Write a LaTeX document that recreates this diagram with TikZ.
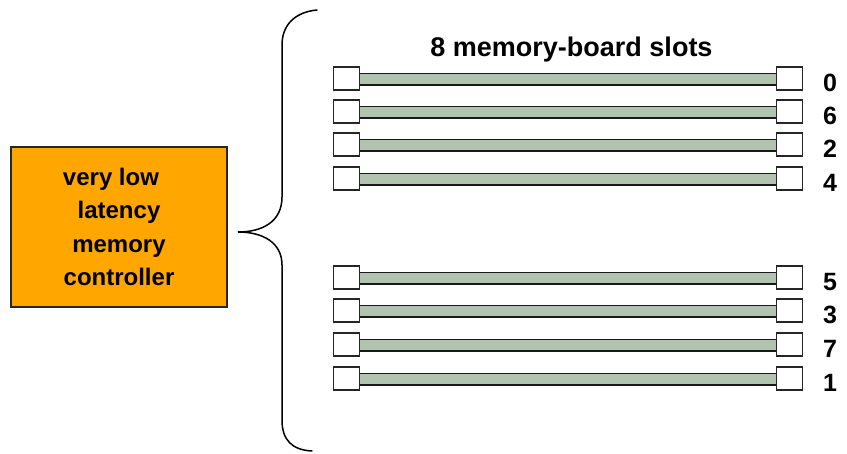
\documentclass[tikz,border=0pt]{standalone}
\usepackage{fontspec}
\setmainfont{Liberation Sans}
\definecolor{ctrlorange}{RGB}{255,166,0}
\definecolor{sage}{RGB}{176,196,176}
\begin{document}
\begin{tikzpicture}[x=1pt,y=-1pt,
  socket/.style={draw=black!85,line width=1.6pt,fill=white,minimum width=26pt,minimum height=23pt,inner sep=0pt},
  boardedge/.style={line width=13pt,draw=black!90},
  boardfill/.style={line width=10pt,draw=sage},
  slotnum/.style={font=\bfseries\fontsize{25}{25}\selectfont,anchor=base,inner sep=0pt},
  ctrl/.style={draw=black!85,line width=1.3pt,fill=ctrlorange,minimum width=216pt,minimum height=160pt,
    align=center,font=\bfseries\fontsize{24}{33.3}\selectfont,inner sep=0pt}]
\useasboundingbox (0,0) rectangle (847,454);

% memory controller
\node[ctrl] (ctrl) at (119,227) {very low\hspace*{16pt}\\latency\\memory\\controller};

% curly brace grouping the slots
\coordinate (btop) at (317,10);
\coordinate (btip) at (238,232);
\coordinate (bbot) at (312,451);
\draw[line width=1.5pt,line cap=round]
  (btop) .. controls (295,12) and (282,25) .. (282,45)
  -- (282,197) .. controls (282,222) and (262,232) .. (btip)
  .. controls (262,232) and (282,242) .. (282,265)
  -- (282,420) .. controls (282,440) and (292,450) .. (bbot);

% title
\node[font=\bfseries\fontsize{27}{27}\selectfont,anchor=base,inner sep=0pt] (title) at (571.5,57) {8 memory-board slots};

% slots: row centre / slot number
\foreach \yc/\num [count=\i] in {78.5/0,111.5/6,144.5/2,178.5/4,277.5/5,310.5/3,344.5/7,378.5/1}{
  \node[socket] (L\i) at (346.5,\yc) {};
  \node[socket] (R\i) at (789.5,\yc) {};
  \draw[boardedge] ([yshift=-1pt]L\i.east) -- ([yshift=-1pt]R\i.west);
  \draw[boardfill] ([yshift=-1pt]L\i.east) -- ([yshift=-1pt]R\i.west);
  \node[slotnum] (N\i) at (830,\yc+13) {\num};
}
\end{tikzpicture}
\end{document}
